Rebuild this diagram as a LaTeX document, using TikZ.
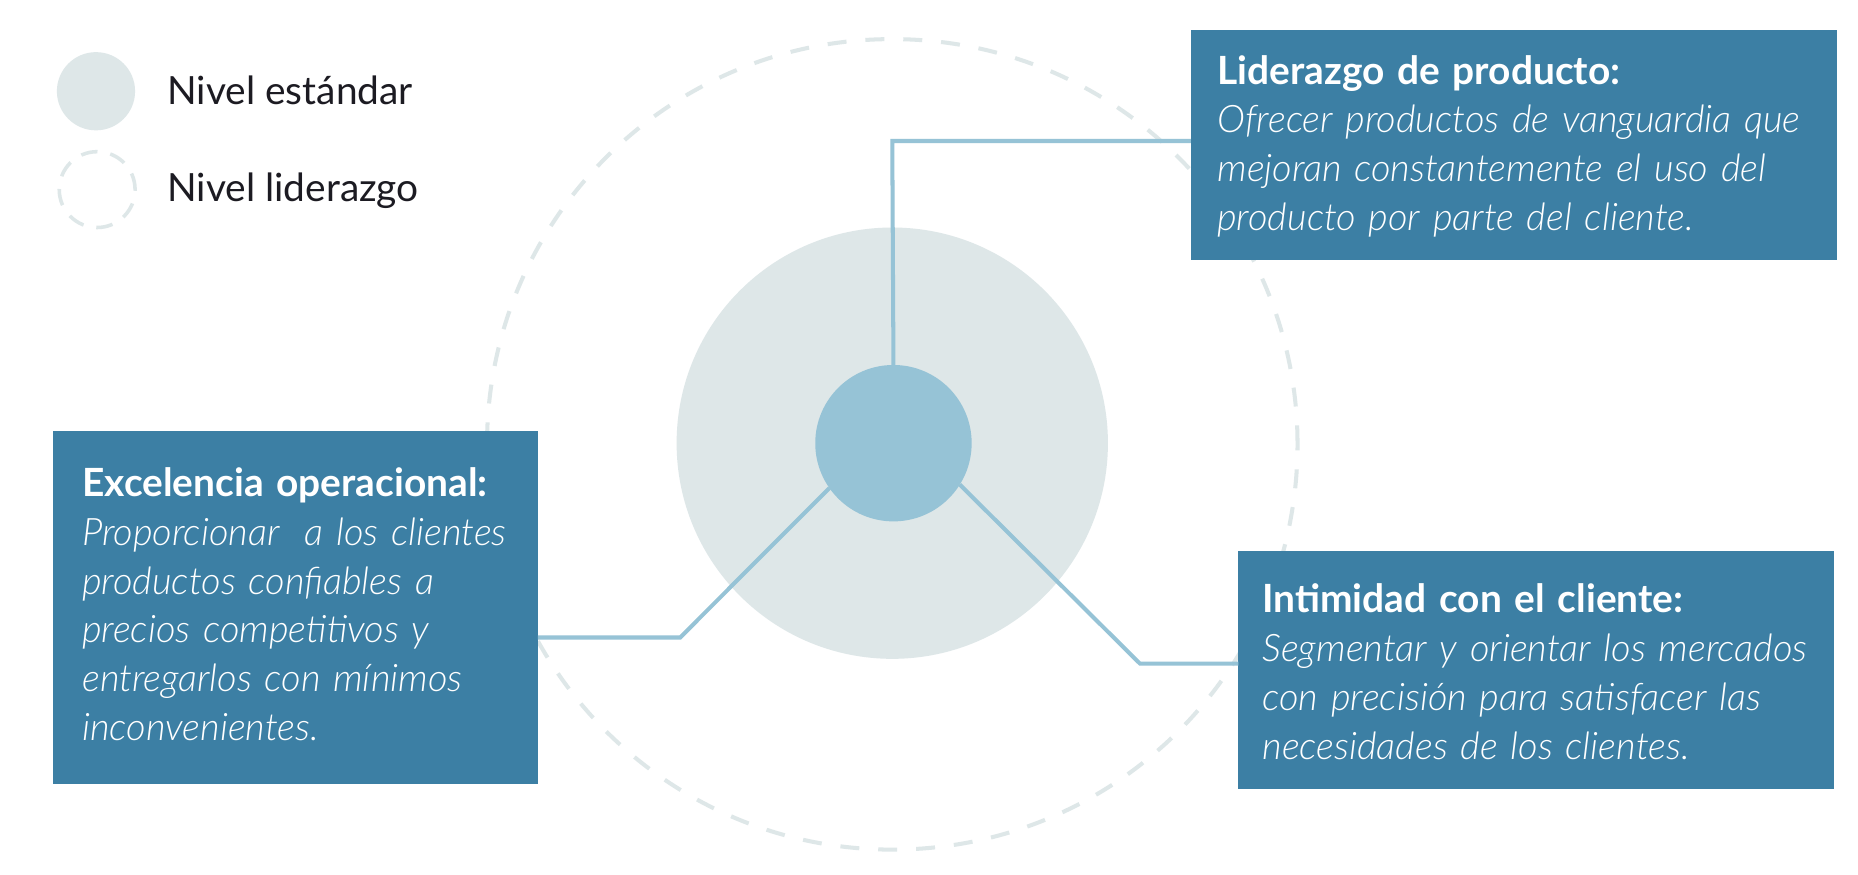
\documentclass[tikz,border=0pt]{standalone}
\usepackage{fontspec}
\setmainfont{Lato}
\newfontfamily\lightfont{Lato Light}
\definecolor{boxblue}{HTML}{3C7FA4}
\definecolor{linkblue}{HTML}{96C3D6}
\definecolor{stdgray}{HTML}{DEE7E8}
\definecolor{inkdark}{HTML}{1C1B22}
\newcommand{\panelhead}[1]{{\fontsize{16.4}{20.6}\selectfont\bfseries #1}}
\newcommand{\panelbody}{\lightfont\itshape\fontsize{16}{20.6}\selectfont}
\begin{document}
\begin{tikzpicture}[x=0.5pt,y=-0.5pt,
  stdcircle/.style={circle, fill=stdgray, draw=none, inner sep=0pt, outer sep=0pt},
  leadcircle/.style={circle, draw=stdgray, fill=none, inner sep=0pt, outer sep=0pt, line width=1.7pt, dash pattern=on 8pt off 8pt},
  legendlead/.style={circle, draw=stdgray, fill=none, inner sep=0pt, outer sep=0pt, line width=1.5pt, dash pattern=on 7pt off 5.5pt},
  corecircle/.style={circle, fill=linkblue, draw=none, inner sep=0pt, outer sep=0pt},
  panel/.style={rectangle, fill=boxblue, draw=none, inner sep=0pt, outer sep=0pt, anchor=north west},
  link/.style={draw=linkblue, line width=1.7pt},
  paneltext/.style={text=white, anchor=base west, inner sep=0pt, align=left, font=\fontsize{16}{20.6}\selectfont},
  legendtext/.style={text=inkdark, anchor=base west, inner sep=0pt, font=\fontsize{16.4}{18}\selectfont}]
\useasboundingbox (0,0) rectangle (1568,738);
\fill[white] (0,0) rectangle (1568,738);
% legend
\node[stdcircle, minimum size=33pt] (legstd) at (81,77) {};
\node[legendtext] (legstdtxt) at (141,88) {Nivel estándar};
\node[legendlead, minimum size=32pt] (leglead) at (82,160) {};
\node[legendtext] (legleadtxt) at (141,170) {Nivel liderazgo};
% circles
\node[leadcircle, minimum size=342pt] (lead) at (753,375) {};
\node[stdcircle, minimum size=182pt] (std) at (753,374) {};
\node[corecircle, minimum size=66pt] (core) at (754,374) {};
% panels
\node[panel, minimum width=272.5pt, minimum height=97pt] (prod) at (1005,25) {};
\node[panel, minimum width=204.5pt, minimum height=149pt] (oper) at (45,364) {};
\node[panel, minimum width=251.5pt, minimum height=100.5pt] (clie) at (1045,465) {};
% connectors
\coordinate (bendA) at (753,119);
\coordinate (bendB) at (574,538);
\coordinate (bendC) at (962,560);
\draw[link] (core.north) -- (bendA) -- (bendA -| prod.west);
\draw[link] (core.215) -- (bendB) -- (bendB -| oper.east);
\draw[link] (core.-32) -- (bendC) -- (bendC -| clie.west);
% texts
\node[paneltext, text width=264pt] (prodtxt) at (1027,71) {\panelhead{Liderazgo de producto:}\\ {\panelbody Ofrecer productos de vanguardia que\\ mejoran constantemente el uso del\\ producto por parte del cliente.}};
\node[paneltext, text width=200pt] (opertxt) at (69,419) {\panelhead{Excelencia operacional:}\\ {\panelbody Proporcionar\ \ a los clientes\\ productos confiables a\\ precios competitivos y\\ entregarlos con mínimos\\ inconvenientes.}};
\node[paneltext, text width=250pt] (clietxt) at (1065,517) {\panelhead{Intimidad con el cliente:}\\ {\panelbody Segmentar y orientar los mercados\\ con precisión para satisfacer las\\ necesidades de los clientes.}};
\end{tikzpicture}
\end{document}
